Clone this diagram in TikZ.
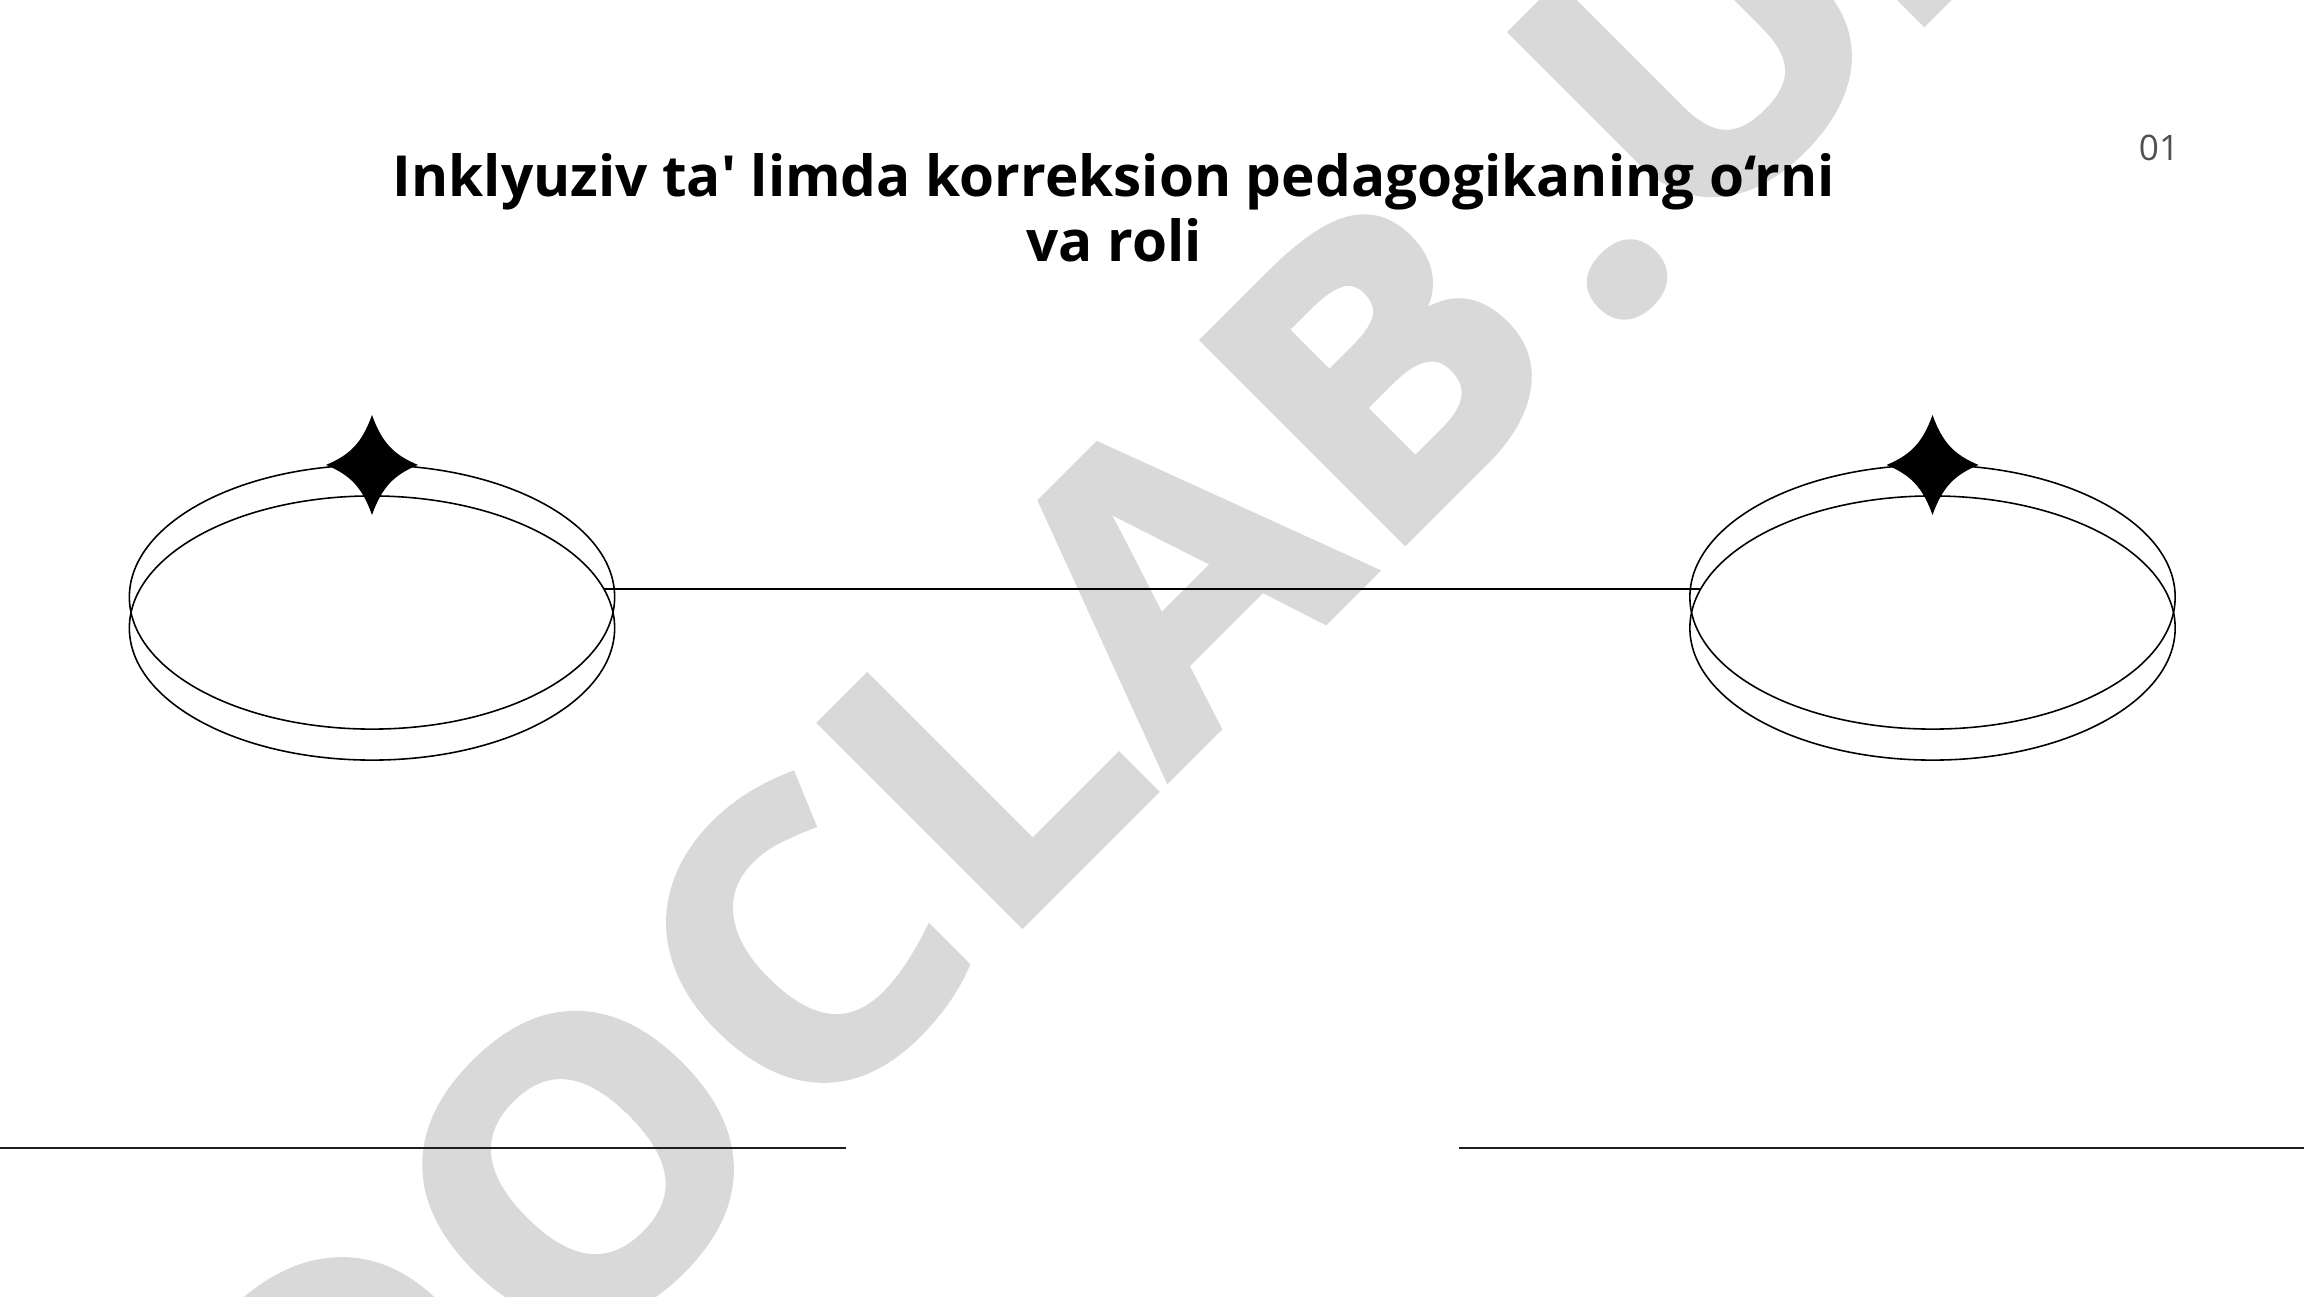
\documentclass[tikz,border=0pt]{standalone}
\usepackage{fontspec}
\newfontfamily\osans{Open Sans}
\newfontfamily\wmfont{Open Sans}[BoldFeatures={FakeBold=2}, LetterSpace=1.5]
\usetikzlibrary{shapes.geometric,calc}
\definecolor{wmgray}{RGB}{217,217,217}
\definecolor{numgray}{RGB}{80,80,80}
\definecolor{rulegray}{RGB}{30,30,30}
\tikzset{
  ring/.style={draw, ellipse, minimum width=4.85cm, minimum height=2.64cm, inner sep=0pt, outer sep=0pt},
  wmtext/.style={text=wmgray, inner sep=0pt, font=\wmfont\bfseries\fontsize{113pt}{120pt}\selectfont},
  titletext/.style={inner sep=0pt, font=\osans\bfseries\fontsize{16.1pt}{20pt}\selectfont},
  numtext/.style={inner sep=0pt, text=numgray, font=\osans\fontsize{10pt}{12pt}\selectfont},
  bottomrule/.style={draw=rulegray, line width=0.7pt},
  sparkle/.pic={\fill[black] (0,-50) .. controls (10,-22) and (22,-10) .. (46,0)
      .. controls (22,10) and (10,22) .. (0,50)
      .. controls (-10,22) and (-22,10) .. (-46,0)
      .. controls (-22,-10) and (-10,-22) .. (0,-50) -- cycle;}
}
\begin{document}
\begin{tikzpicture}[x=0.01cm, y=-0.01cm, line width=0.45pt]
\useasboundingbox (0,0) rectangle (2304,1296);
\fill[white] (0,0) rectangle (2304,1296);
% watermark
\node[wmtext, transform shape, rotate=45, xscale=1.06, anchor=base west] (wm) at (335,1611) {DOCLAB\kern9.7pt.UZ};
% title
\node[titletext, anchor=base] (t1) at (1114,196.8) {Inklyuziv ta\textquotesingle{} limda korreksion pedagogikaning o‘rni};
\node[titletext, anchor=base] (t2) at (1114,261.5) {va roli};
\node[numtext, anchor=base] (num) at (2159,160) {01};
% left ring
\node[ring] (la) at (372,597) {};
\node[ring] (lb) at (372,628) {};
\pic at (la.north) {sparkle};
% right ring
\node[ring] (ra) at (1932.5,597) {};
\node[ring] (rb) at (1932.5,628) {};
\pic at (ra.north) {sparkle};
% connector
\coordinate (cL) at ($(lb.center)+(231.5,-39.3)$);
\coordinate (cR) at ($(rb.center)+(-231.5,-39.3)$);
\draw (cL) -- (cR);
% bottom lines
\coordinate (bl1) at (0,1148);
\coordinate (bl2) at (846,1148);
\coordinate (br1) at (1459,1148);
\coordinate (br2) at (2304,1148);
\draw[bottomrule] (bl1) -- (bl2);
\draw[bottomrule] (br1) -- (br2);
\end{tikzpicture}
\end{document}
